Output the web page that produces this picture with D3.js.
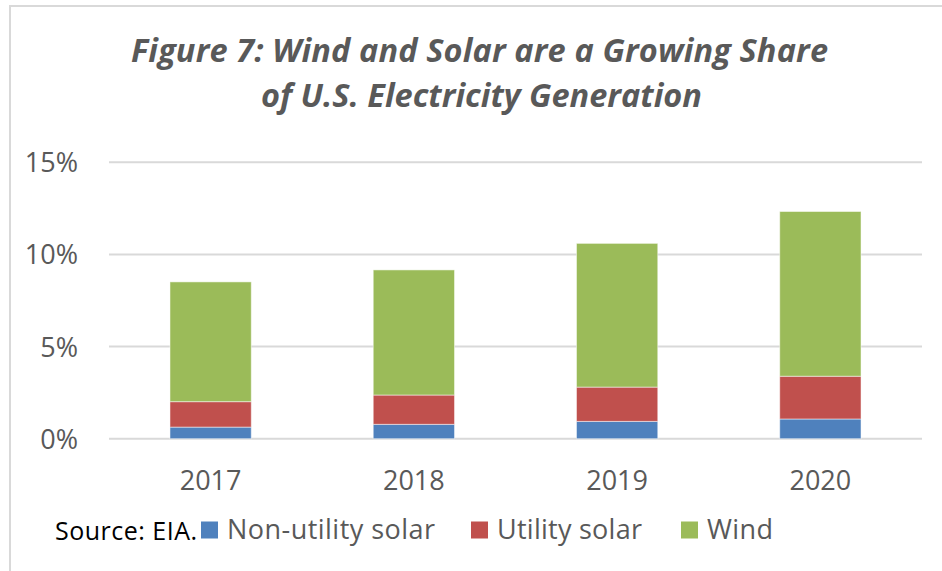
<!DOCTYPE html>
<html>
<head>
<meta charset="utf-8">
<script src="https://cdn.jsdelivr.net/npm/d3@7"></script>
<style>
  body { margin: 0; background: #fff; }
  text { font-family: "Open Sans", sans-serif; }
</style>
</head>
<body>
<div class="bar_chart"></div>
<script>
const years = ["2017", "2018", "2019", "2020"];
const nonUtilitySolar = [0.63, 0.78, 0.94, 1.07];
const utilitySolar = [1.38, 1.59, 1.86, 2.32];
const wind = [6.50, 6.79, 7.80, 8.94];
const yTicks = [0, 5, 10, 15];
const seriesNames = ["Non-utility solar", "Utility solar", "Wind"];
const seriesColors = ["#4f81bd", "#c0504d", "#9bbb59"];

const width = 942, height = 571;

const svg = d3.select(".bar_chart")
              .append("svg")
                  .attr("width", width)
                  .attr("height", height);

/* outer frame */
svg.append("path")
   .attr("d", "M10,571 V6 H942")
   .attr("fill", "none")
   .attr("stroke", "#d9d9d9")
   .attr("stroke-width", 2);

/* title */
const title = svg.append("text")
                 .attr("fill", "#595959")
                 .attr("font-size", "32.5px")
                 .attr("font-weight", "bold")
                 .attr("font-style", "italic");
title.append("tspan").attr("x", 131).attr("y", 62)
     .attr("textLength", 697)
     .attr("lengthAdjust", "spacing")
     .text("Figure 7: Wind and Solar are a Growing Share");
title.append("tspan").attr("x", 261).attr("y", 107)
     .attr("textLength", 441)
     .attr("lengthAdjust", "spacing")
     .text("of U.S. Electricity Generation");

const x = d3.scaleBand()
            .domain(years)
            .range([109, 922])
            .paddingInner(0.6)
            .paddingOuter(0.3);

const y = d3.scaleLinear()
            .domain([0, 15])
            .range([438.7, 162.3]);

/* gridlines */
svg.append("g")
   .selectAll("line")
   .data(yTicks)
   .enter()
   .append("line")
       .attr("x1", 109)
       .attr("x2", 922)
       .attr("y1", d => y(d))
       .attr("y2", d => y(d))
       .attr("stroke", "#d9d9d9")
       .attr("stroke-width", 2);

/* y labels */
svg.append("g")
   .selectAll("text")
   .data(yTicks)
   .enter()
   .append("text")
       .attr("x", 78)
       .attr("y", d => y(d) + 10)
       .attr("text-anchor", "end")
       .attr("fill", "#595959")
       .attr("font-size", "27px")
       .text(d => d + "%");

/* stacked bars */
const rows = years.map((yr, i) => ({
    year: yr,
    "Non-utility solar": nonUtilitySolar[i],
    "Utility solar": utilitySolar[i],
    "Wind": wind[i]
}));

const stack = d3.stack().keys(seriesNames);

svg.append("g")
   .selectAll("g")
   .data(stack(rows))
   .enter()
   .append("g")
       .attr("fill", (d, i) => seriesColors[i])
   .selectAll("rect")
   .data(d => d)
   .enter()
   .append("rect")
       .attr("x", d => x(d.data.year))
       .attr("width", x.bandwidth())
       .attr("y", d => y(d[1]))
       .attr("height", d => y(d[0]) - y(d[1]))
       .attr("stroke", "rgba(255,255,255,0.5)")
       .attr("stroke-width", 1);

/* x labels */
svg.append("g")
   .selectAll("text")
   .data(years)
   .enter()
   .append("text")
       .attr("x", d => x(d) + x.bandwidth() / 2)
       .attr("y", 490)
       .attr("text-anchor", "middle")
       .attr("fill", "#595959")
       .attr("font-size", "27px")
       .text(d => d);

/* source + legend */
svg.append("text")
   .attr("x", 55)
   .attr("y", 540)
   .attr("fill", "#000")
   .attr("font-size", "25px")
   .attr("textLength", 142)
   .attr("lengthAdjust", "spacing")
   .text("Source: EIA.");

const legendX = [201, 471, 681];
const legendW = [208, 145, 66];
const legend = svg.append("g")
                  .selectAll("g")
                  .data(seriesNames)
                  .enter()
                  .append("g")
                      .attr("transform", (d, i) => "translate(" + legendX[i] + ", 521.5)");
legend.append("rect")
      .attr("width", 17)
      .attr("height", 17)
      .attr("fill", (d, i) => seriesColors[i]);
legend.append("text")
      .attr("x", 26)
      .attr("y", 17)
      .attr("fill", "#595959")
      .attr("font-size", "27px")
      .attr("textLength", (d, i) => legendW[i])
      .attr("lengthAdjust", "spacing")
      .text(d => d);
</script>
</body>
</html>
